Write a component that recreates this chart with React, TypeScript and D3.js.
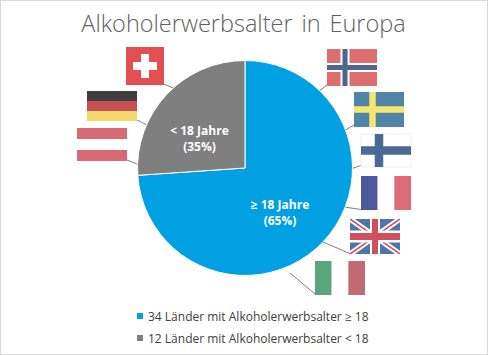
import React from "react";
import * as d3 from "d3";

const sliceNames = ["≥ 18 Jahre", "< 18 Jahre"];
const sliceCounts = [34, 12];
const slicePercents = ["(65%)", "(35%)"];
const sliceColors = ["#00a0e3", "#7f7f7f"];
const legendLabels = ["34 Länder mit Alkoholerwerbsalter ≥ 18", "12 Länder mit Alkoholerwerbsalter < 18"];
const title = "Alkoholerwerbsalter in Europa";

const W = 488, H = 355, CX = 245, CY = 168, R = 107.5;

type FlagProps = { x: number; y: number; w: number; h: number };
const Tri = ({ x, y, w, h, colors, vertical }: FlagProps & { colors: string[]; vertical?: boolean }) => (
  <g>
    {colors.map((c, i) =>
      vertical ? (
        <rect key={i} x={x + (i * w) / colors.length} y={y} width={w / colors.length} height={h} fill={c} />
      ) : (
        <rect key={i} x={x} y={y + (i * h) / colors.length} width={w} height={h / colors.length} fill={c} />
      )
    )}
  </g>
);
const Nordic = ({ x, y, w, h, bg, cross, inner, px, t, it, border }: FlagProps & { bg: string; cross: string; inner?: string; px: number; t: number; it?: number; border?: string }) => (
  <g>
    <rect x={x} y={y} width={w} height={h} fill={bg} stroke={border || "none"} />
    {inner && <rect x={x + px - (it as number) / 2} y={y} width={it} height={h} fill={inner} />}
    {inner && <rect x={x} y={y + h / 2 - (it as number) / 2} width={w} height={it} fill={inner} />}
    <rect x={x + px - t / 2} y={y} width={t} height={h} fill={cross} />
    <rect x={x} y={y + h / 2 - t / 2} width={w} height={t} fill={cross} />
  </g>
);
const Swiss = ({ x, y, w, h }: FlagProps) => (
  <g>
    <rect x={x} y={y} width={w} height={h} fill="#e14f53" />
    <rect x={x + 15} y={y + 7} width={8} height={24} fill="#fff" />
    <rect x={x + 7} y={y + 15} width={24} height={8} fill="#fff" />
  </g>
);
const UK = ({ x, y, w, h }: FlagProps) => {
  const blue = "#4f76a6", red = "#d0505f";
  return (
    <g>
      <clipPath id="uk"><rect x={x} y={y} width={w} height={h} /></clipPath>
      <g clipPath="url(#uk)">
        <rect x={x} y={y} width={w} height={h} fill={blue} />
        <path d={`M${x},${y}L${x + w},${y + h}M${x + w},${y}L${x},${y + h}`} stroke="#fff" strokeWidth={5.5} />
        <path d={`M${x},${y}L${x + w},${y + h}M${x + w},${y}L${x},${y + h}`} stroke={red} strokeWidth={1.6} />
        <rect x={x + w / 2 - 5} y={y} width={10} height={h} fill="#fff" />
        <rect x={x} y={y + h / 2 - 6} width={w} height={12} fill="#fff" />
        <rect x={x + w / 2 - 3} y={y} width={6} height={h} fill={red} />
        <rect x={x} y={y + h / 2 - 3.5} width={w} height={7} fill={red} />
      </g>
    </g>
  );
};

const leaders: [number, number][][] = [
  [[164, 84], [173, 88]], [[137, 120], [147, 125]], [[127, 160], [137, 164]],
  [[318, 92], [327, 85]], [[344, 131], [354, 125]], [[351, 169], [362, 165]],
  [[344, 207], [361, 209.5]], [[323, 242], [351, 254]], [[290, 273], [315, 294]],
];

export default function App() {
  const pie = d3.pie<number>().value((d) => d).sort(null);
  const arcs = pie(sliceCounts);
  const arc = d3.arc<d3.PieArcDatum<number>>().innerRadius(0).outerRadius(R);
  const font = "'Open Sans', sans-serif";
  const labelX = [280, 199.5];
  const labelY = [209, 135];
  return (
    <svg width={W} height={H} style={{ position: "absolute", left: 0, top: 0, background: "#fff" }}>
      <rect x={0.5} y={0.5} width={W - 1} height={H - 1} fill="#fff" stroke="#d9d9d9" />
      <text x={243.5} y={32} textAnchor="middle" fontFamily={font} fontWeight={300} fontSize={23.5} fill="#5f5f5f" wordSpacing={2.75}>{title}</text>
      {leaders.map((l, i) => (
        <path key={i} d={d3.line()(l) || ""} fill="none" stroke="#808080" strokeWidth={1} />
      ))}
      <g transform={`translate(${CX},${CY})`}>
        {arcs.map((a, i) => (
          <path key={i} d={arc(a) || ""} fill={sliceColors[i]} stroke="#fff" strokeWidth={1} />
        ))}
      </g>
      <Swiss x={126} y={47} w={38} h={38} />
      <Tri x={87} y={91} w={50} h={30} colors={["#3f3f3f", "#c65055", "#f5d86a"]} />
      <Tri x={77} y={128} w={50} h={33} colors={["#d96a75", "#fff", "#d96a75"]} />
      <Nordic x={327} y={49} w={50} h={37} bg="#dd6e70" cross="#4b668f" inner="#fff" px={18} t={5} it={9} />
      <Nordic x={354} y={92} w={50} h={35} bg="#4f86a8" cross="#f5e46e" px={18.5} t={6.5} />
      <Nordic x={361} y={134} w={50} h={33} bg="#fff" cross="#4a6a96" px={18} t={8.5} border="#f0f0f0" />
      <Tri x={361} y={176} w={50} h={34} colors={["#4a5a9c", "#fff", "#de6b78"]} vertical />
      <UK x={350} y={219} w={50} h={35} />
      <Tri x={315} y={261} w={50} h={34} colors={["#5aa57e", "#fff", "#c06a72"]} vertical />
      {arcs.map((_, i) => (
        <text key={i} textAnchor="middle" fontFamily={font} fontWeight={700} fontSize={12} fill="#fff">
          <tspan x={labelX[i]} y={labelY[i]}>{sliceNames[i]}</tspan>
          <tspan x={labelX[i]} y={labelY[i] + 15.5}>{slicePercents[i]}</tspan>
        </text>
      ))}
      {legendLabels.map((t, i) => (
        <g key={i}>
          <rect x={137} y={313 + i * 22} width={6} height={6} fill={sliceColors[i]} />
          <text x={148} y={320.5 + i * 22} fontFamily={font} fontSize={12} fill="#404040">{t}</text>
        </g>
      ))}
    </svg>
  );
}
